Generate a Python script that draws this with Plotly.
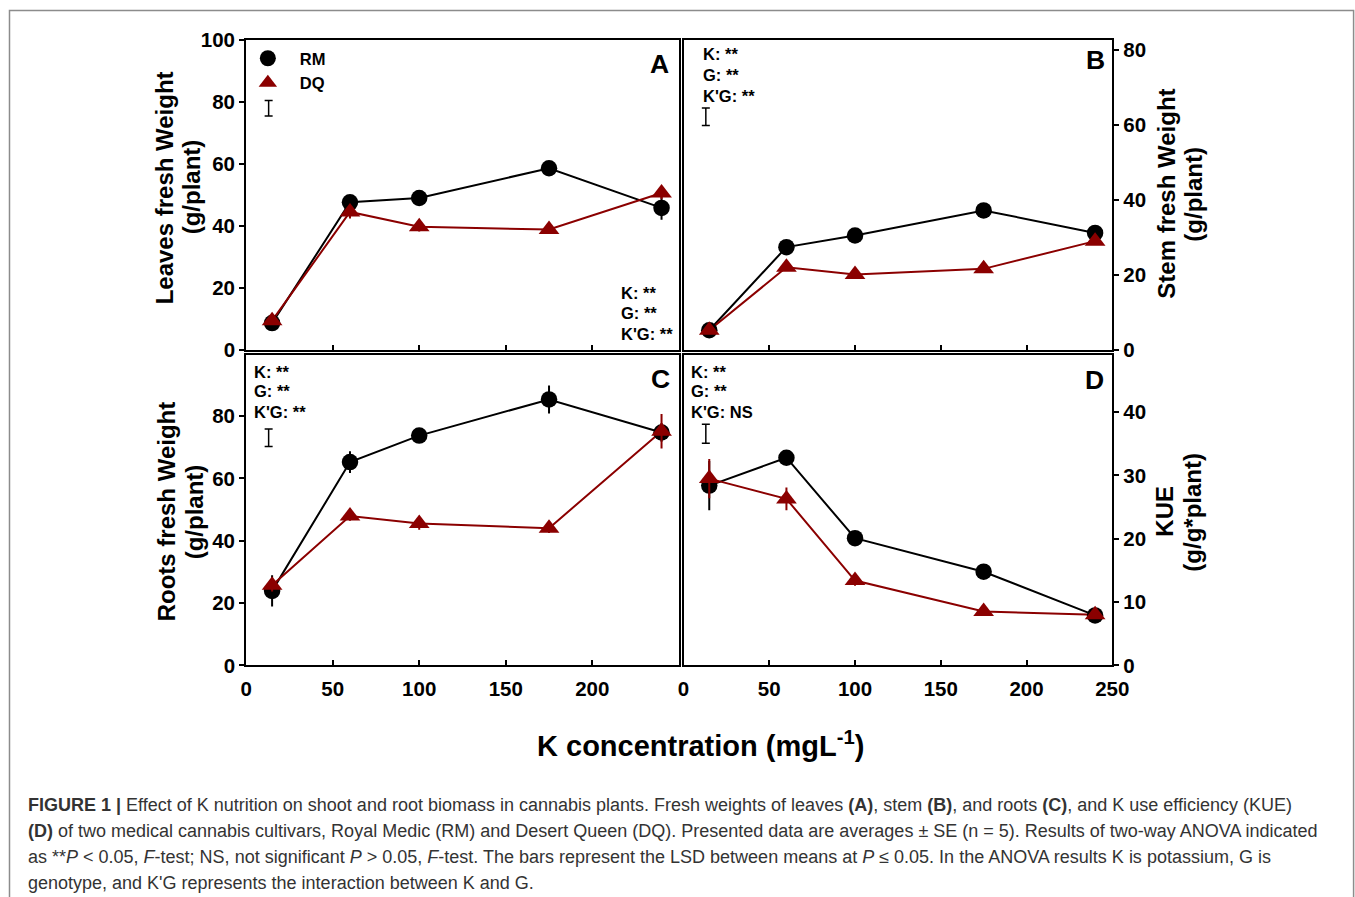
import plotly.graph_objects as go

# ---------------------------------------------------------------- data
k_conc = [15, 60, 100, 175, 240]          # K concentration (mg/L)

leaves_rm = [8.6, 47.6, 49.0, 58.6, 45.8]
leaves_rm_se = [1.0, 1.5, 1.0, 1.5, 3.8]
leaves_dq = [9.4, 44.5, 39.7, 38.8, 50.6]
leaves_dq_se = [1.0, 2.1, 1.5, 1.0, 2.0]

stem_rm = [5.2, 27.4, 30.5, 37.2, 31.2]
stem_rm_se = [1.0, 1.0, 1.0, 1.0, 1.0]
stem_dq = [5.2, 22.0, 20.1, 21.6, 29.0]
stem_dq_se = [1.0, 1.0, 1.0, 1.0, 1.0]

roots_rm = [23.9, 65.2, 73.7, 85.3, 74.7]
roots_rm_se = [5.0, 3.5, 1.5, 4.5, 3.0]
roots_dq = [25.7, 47.9, 45.5, 44.0, 75.1]
roots_dq_se = [2.0, 1.5, 2.0, 1.5, 5.5]

kue_rm = [28.4, 32.8, 20.1, 14.8, 7.9]
kue_rm_se = [3.9, 1.0, 0.8, 0.8, 0.5]
kue_dq = [29.5, 26.3, 13.4, 8.5, 8.0]
kue_dq_se = [3.1, 1.8, 0.8, 0.5, 0.5]

# LSD (P <= 0.05) for each panel A-D
lsd_values = [5.0, 4.7, 5.6, 3.0]

anova_a = ["K: **", "G: **", "K'G: **"]
anova_b = ["K: **", "G: **", "K'G: **"]
anova_c = ["K: **", "G: **", "K'G: **"]
anova_d = ["K: **", "G: **", "K'G: NS"]

x_ticks_top = [50, 100, 150, 200]
x_ticks_c = [0, 50, 100, 150, 200]
x_ticks_d = [0, 50, 100, 150, 200, 250]
y_ticks_a = [0, 20, 40, 60, 80, 100]
y_ticks_b = [0, 20, 40, 60, 80]
y_ticks_c = [0, 20, 40, 60, 80]
y_ticks_d = [0, 10, 20, 30, 40]

# ---------------------------------------------------------------- style
W, H = 1380, 915
# layout is specified in screen pixels; these map screen pixels to paper
SX, OX = 0.984, 5.0
SY, OY = 0.975, 10.5
RM_COLOR = "black"
DQ_COLOR = "#8B0000"
FONT = "Liberation Sans, Arial, Helvetica, sans-serif"


def fx(px):
    return ((px - OX) / SX) / W


def fy(py):
    return 1 - ((py - OY) / SY) / H


fig = go.Figure()

panels = [
    # values, errors, axis suffix, legend shown
    (leaves_rm, leaves_rm_se, leaves_dq, leaves_dq_se, "", True),
    (stem_rm, stem_rm_se, stem_dq, stem_dq_se, "2", False),
    (roots_rm, roots_rm_se, roots_dq, roots_dq_se, "3", False),
    (kue_rm, kue_rm_se, kue_dq, kue_dq_se, "4", False),
]

lsd_x = 13
lsd_centers = [78.0, 62.2, 73.0, 36.6]

for i, (rm, rm_se, dq, dq_se, sfx, show_leg) in enumerate(panels):
    xa, ya = "x" + sfx, "y" + sfx
    # connecting lines
    fig.add_trace(go.Scatter(x=k_conc, y=rm, mode="lines", xaxis=xa, yaxis=ya,
                             line=dict(color=RM_COLOR, width=2), showlegend=False,
                             hoverinfo="skip"))
    fig.add_trace(go.Scatter(x=k_conc, y=dq, mode="lines", xaxis=xa, yaxis=ya,
                             line=dict(color=DQ_COLOR, width=2), showlegend=False,
                             hoverinfo="skip"))
    # means +- SE
    fig.add_trace(go.Scatter(x=k_conc, y=rm, mode="markers", xaxis=xa, yaxis=ya,
                             name="RM", legendgroup="RM", showlegend=show_leg,
                             marker=dict(symbol="circle", size=16.5, color=RM_COLOR),
                             error_y=dict(type="data", array=rm_se, color=RM_COLOR,
                                          thickness=2, width=0)))
    fig.add_trace(go.Scatter(x=k_conc, y=dq, mode="markers", xaxis=xa, yaxis=ya,
                             name="DQ", legendgroup="DQ", showlegend=show_leg,
                             marker=dict(symbol="triangle-up", size=18, color=DQ_COLOR),
                             error_y=dict(type="data", array=dq_se, color=DQ_COLOR,
                                          thickness=2, width=0)))
    # LSD bar
    fig.add_trace(go.Scatter(x=[lsd_x], y=[lsd_centers[i]], mode="markers",
                             xaxis=xa, yaxis=ya, showlegend=False, hoverinfo="skip",
                             marker=dict(size=1, color="rgba(0,0,0,0)"),
                             error_y=dict(type="data", array=[lsd_values[i] / 2],
                                          color="black", thickness=1.5, width=4)))

tickfont = dict(family=FONT, size=20.5, color="black", weight="bold")

common_x = dict(range=[0, 250], showline=True, mirror=True, linecolor="black",
                linewidth=2, ticks="inside", ticklen=5, tickwidth=1.5,
                tickcolor="black", showgrid=False, zeroline=False,
                tickfont=tickfont, ticklabelstandoff=4)
common_y = dict(showline=True, mirror=True, linecolor="black", linewidth=2,
                ticks="outside", ticklen=5, tickwidth=1.5, tickcolor="black",
                showgrid=False, zeroline=False, tickfont=tickfont)

# panel frames sit just outside these domains, leaving a thin gap between panels
col_left = [fx(245.3), fx(678.3)]
col_right = [fx(683.0), fx(1112.0)]
row_top = [fy(348.3), fy(38.5)]
row_bot = [fy(664.0), fy(353.7)]

fig.update_layout(
    width=W, height=H,
    margin=dict(l=0, r=0, t=0, b=0),
    paper_bgcolor="white", plot_bgcolor="white",
    xaxis=dict(common_x, domain=col_left, anchor="y", tickvals=x_ticks_top,
               showticklabels=False),
    xaxis2=dict(common_x, domain=col_right, anchor="y2", tickvals=x_ticks_top,
                showticklabels=False),
    xaxis3=dict(common_x, domain=col_left, anchor="y3", tickvals=x_ticks_c),
    xaxis4=dict(common_x, domain=col_right, anchor="y4", tickvals=x_ticks_d),
    yaxis=dict(common_y, domain=row_top, anchor="x", range=[0, 100],
               tickvals=y_ticks_a, side="left"),
    yaxis2=dict(common_y, domain=row_top, anchor="x2", range=[0, 82.7],
                tickvals=y_ticks_b, side="right"),
    yaxis3=dict(common_y, domain=row_bot, anchor="x3", range=[0, 99.5],
                tickvals=y_ticks_c, side="left"),
    yaxis4=dict(common_y, domain=row_bot, anchor="x4", range=[0, 49],
                tickvals=y_ticks_d, side="right"),
    legend=dict(x=fx(235), y=fy(39.5), xanchor="left", yanchor="top",
                font=dict(family=FONT, size=16.5, color="black", weight="bold"),
                bgcolor="rgba(0,0,0,0)", itemwidth=54, tracegroupgap=0,
                itemsizing="trace"),
)

annotations = []


def note(text, x, y, size, xanchor="center", angle=0, weight="bold",
         color="black"):
    annotations.append(dict(text=text, x=fx(x), y=fy(y), xref="paper",
                            yref="paper", showarrow=False, xanchor=xanchor,
                            yanchor="middle", textangle=angle,
                            font=dict(family=FONT, size=size, color=color,
                                      weight=weight)))


# panel letters
note("A", 659, 62.5, 26.5)
note("B", 1095, 59, 26.5)
note("C", 660, 377.5, 26.5)
note("D", 1094, 379, 26.5)

# ANOVA summaries
for lines, x0, ys in [
    (anova_a, 618, [292, 312, 333]),
    (anova_b, 700, [53, 74, 95]),
    (anova_c, 251, [371, 390, 411]),
    (anova_d, 688, [371, 390, 411]),
]:
    for txt, yy in zip(lines, ys):
        note(txt, x0, yy, 16.5, xanchor="left")

# axis titles
note("Leaves fresh Weight", 164, 186, 24, angle=-90)
note("(g/plant)", 191, 185, 24, angle=-90)
note("Stem fresh Weight", 1166, 192, 24, angle=-90)
note("(g/plant)", 1193, 193, 24, angle=-90)
note("Roots fresh Weight", 166, 510, 24, angle=-90)
note("(g/plant)", 194, 510, 24, angle=-90)
note("KUE", 1164, 510, 24, angle=-90)
note("(g/g*plant)", 1192, 511, 24, angle=-90)
note("K concentration (mgL<sup>-1</sup>)", 700, 743, 29)

# figure caption
caption = [
    "<b>FIGURE 1 |</b> Effect of K nutrition on shoot and root biomass in cannabis plants. "
    "Fresh weights of leaves <b>(A)</b>, stem <b>(B)</b>, and roots <b>(C)</b>, and K use efficiency (KUE)",
    "<b>(D)</b> of two medical cannabis cultivars, Royal Medic (RM) and Desert Queen (DQ). "
    "Presented data are averages ± SE (n = 5). Results of two-way ANOVA indicated",
    "as **<i>P</i> &lt; 0.05, <i>F</i>-test; NS, not significant <i>P</i> &gt; 0.05, <i>F</i>-test. "
    "The bars represent the LSD between means at <i>P</i> ≤ 0.05. In the ANOVA results K is potassium, G is",
    "genotype, and K'G represents the interaction between K and G.",
]
for txt, yy in zip(caption, [804, 830, 856, 882]):
    note(txt, 25, yy, 18, xanchor="left", weight="normal", color="#333333")

fig.update_layout(annotations=annotations)

# frame around the figure
fig.add_shape(type="rect", xref="paper", yref="paper",
              x0=fx(8.5), x1=fx(1353.5), y0=-0.05, y1=fy(9),
              line=dict(color="#8c8c8c", width=1.5), fillcolor="rgba(0,0,0,0)")

fig.write_html("out.html")
